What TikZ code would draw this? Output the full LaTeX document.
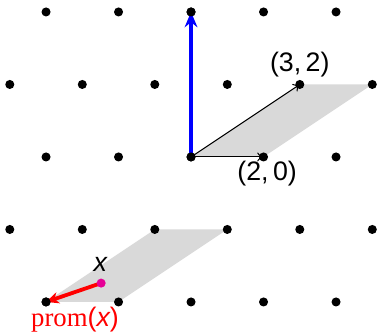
\documentclass[tikz,border=0pt]{standalone}
\usepackage{fontspec}
\setmainfont{Liberation Serif}
\setsansfont{Liberation Sans}
\usetikzlibrary{arrows.meta}
\begin{document}
\begin{tikzpicture}[x=1cm,y=1cm,
  latpt/.style={circle,fill=black,inner sep=0pt,minimum size=0.25cm},
  thinvec/.style={draw=black,line width=0.8pt,-{To[length=5pt,width=7pt]}},
  lbl/.style={font=\sffamily\fontsize{21}{24}\selectfont,inner sep=1pt}]
\useasboundingbox (-5.27,-4.855) rectangle (5.13,4.33);
% shaded parallelograms
\fill[gray!30] (0,0) -- (2,0) -- (5,2) -- (3,2) -- cycle;
\fill[gray!30] (-4,-4) -- (-2,-4) -- (1,-2) -- (-1,-2) -- cycle;
% lattice points
\foreach \b in {-2,...,2}{
  \foreach \a in {-6,...,6}{
    \pgfmathsetmacro{\xx}{2*\a+3*\b}
    \pgfmathsetmacro{\yy}{2*\b}
    \ifdim \xx pt > -5.5pt \ifdim \xx pt < 5.5pt
      \node[latpt] (p\a\b) at (\xx,\yy) {};
    \fi\fi
  }
}
\coordinate (O) at (0,0);
\coordinate (A) at (2,0);
\coordinate (B) at (3,2);
\coordinate (C) at (0,4);
\coordinate (L) at (-4,-4);
\coordinate (X) at (-2.48,-3.48);
% vectors
\draw[thinvec] (O) -- (A);
\draw[thinvec] (O) -- (B);
\draw[blue,line width=3pt,-{Stealth[length=12pt,width=10pt,inset=4pt]}] (O) -- (C);
\node[latpt] at (O) {};
\node[latpt] at (C) {};
% red projection
\draw[red,line width=3pt,-{Stealth[length=10pt,width=9pt,inset=3pt]}] (X) -- (L);
\node[circle,fill={rgb,255:red,230;green,0;blue,150},inner sep=0pt,minimum size=0.25cm] (xpt) at (X) {};
\node[latpt] at (L) {};
% labels
\node[lbl] (l32) at (3.0,2.55) {(3,\,2)};
\node[lbl] (l20) at (2.1,-0.45) {(2,\,0)};
\node[lbl] (lx) at (-2.5,-2.97) {\itshape x};
\node[lbl,text=red] (lprom) at (-3.2,-4.5) {{\rmfamily prom}({\itshape x})};
\end{tikzpicture}
\end{document}
